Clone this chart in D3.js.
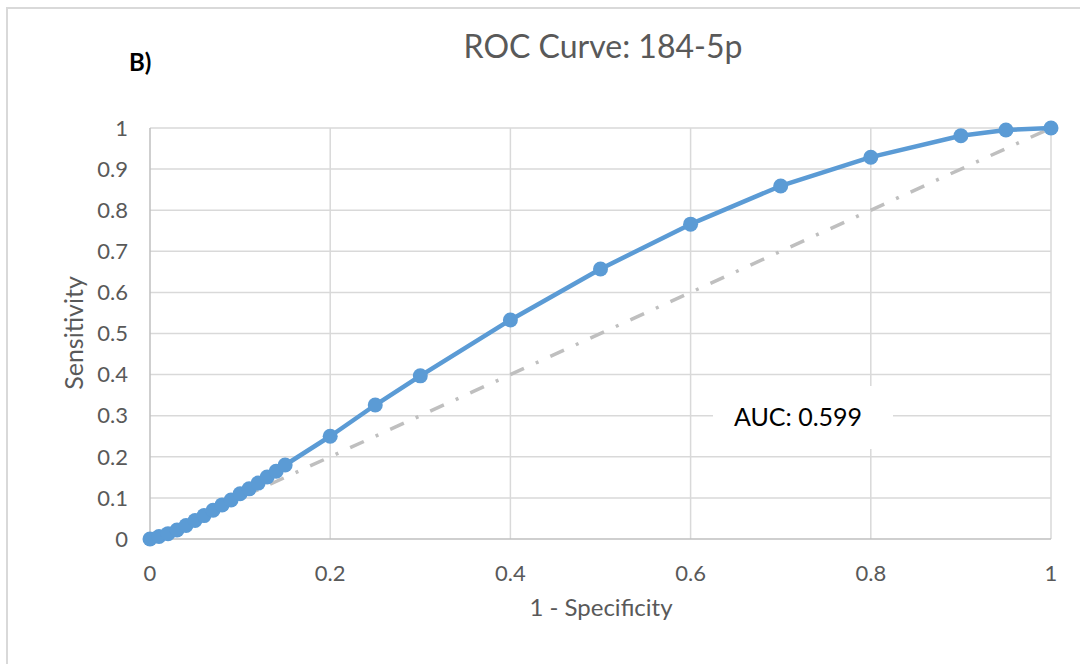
<!DOCTYPE html>
<html><head><meta charset="utf-8">
<script src="https://cdn.jsdelivr.net/npm/d3@7"></script>
<style>body{margin:0;background:#fff}svg{display:block}text{font-family:Lato,"Open Sans",sans-serif}</style>
</head><body><svg id="c" width="1080" height="664"></svg>
<script>
const fprValues = [0, 0.01, 0.02, 0.03, 0.04, 0.05, 0.06, 0.07, 0.08, 0.09, 0.10, 0.11, 0.12, 0.13, 0.14, 0.15, 0.2, 0.25, 0.3, 0.4, 0.5, 0.6, 0.7, 0.8, 0.9, 0.95, 1];
const tprValues = [0, 0.006, 0.013, 0.022, 0.033, 0.045, 0.057, 0.07, 0.083, 0.095, 0.11, 0.122, 0.136, 0.151, 0.165, 0.18, 0.25, 0.326, 0.397, 0.533, 0.657, 0.766, 0.859, 0.929, 0.981, 0.995, 1];
const refLine = [[0,0],[1,1]];
const xTicks = [0, 0.2, 0.4, 0.6, 0.8, 1];
const yTicks = [0, 0.1, 0.2, 0.3, 0.4, 0.5, 0.6, 0.7, 0.8, 0.9, 1];
const titleText = "ROC Curve: 184-5p";
const panelLabel = "B)";
const aucLabel = "AUC: 0.599";

const svg = d3.select("#c");
const x = d3.scaleLinear().domain([0,1]).range([150,1051]);
const y = d3.scaleLinear().domain([0,1]).range([539,128]);

svg.append("rect").attr("x",7).attr("y",8).attr("width",1100).attr("height",700)
  .attr("fill","#fff").attr("stroke","#D9D9D9").attr("stroke-width",2);

// gridlines
svg.append("g").selectAll("line").data(yTicks.slice(1)).join("line")
  .attr("x1",x(0)).attr("x2",x(1)).attr("y1",d=>y(d)).attr("y2",d=>y(d))
  .attr("stroke","#D9D9D9").attr("stroke-width",1.5);
svg.append("g").selectAll("line").data(xTicks.slice(1)).join("line")
  .attr("y1",y(0)).attr("y2",y(1)).attr("x1",d=>x(d)).attr("x2",d=>x(d))
  .attr("stroke","#D9D9D9").attr("stroke-width",1.5);
// axes lines
svg.append("line").attr("x1",x(0)).attr("x2",x(1)).attr("y1",y(0)).attr("y2",y(0)).attr("stroke","#BFBFBF").attr("stroke-width",1.5);
svg.append("line").attr("x1",x(0)).attr("x2",x(0)).attr("y1",y(0)).attr("y2",y(1)).attr("stroke","#BFBFBF").attr("stroke-width",1.5);

// tick labels
svg.append("g").selectAll("text").data(yTicks).join("text")
  .attr("x",128).attr("y",d=>y(d)).attr("dy","0.35em").attr("text-anchor","end")
  .attr("font-size",22).attr("fill","#595959").text(d=>d3.format("~g")(d));
svg.append("g").selectAll("text").data(xTicks).join("text")
  .attr("x",d=>x(d)).attr("y",573).attr("dy","0.35em").attr("text-anchor","middle")
  .attr("font-size",22).attr("fill","#595959").text(d=>d3.format("~g")(d));

// axis titles
svg.append("text").attr("x",601).attr("y",608).attr("dy","0.35em").attr("text-anchor","middle")
  .attr("font-size",24).attr("fill","#595959").text("1 - Specificity");
svg.append("text").attr("transform","translate(74,333) rotate(-90)").attr("dy","0.35em").attr("text-anchor","middle")
  .attr("font-size",25).attr("fill","#595959").text("Sensitivity");

// title
svg.append("text").attr("x",603).attr("y",47).attr("dy","0.35em").attr("text-anchor","middle")
  .attr("font-size",32).attr("fill","#595959").text(titleText);
svg.append("text").attr("x",129).attr("y",63).attr("dy","0.35em")
  .attr("font-size",24).attr("font-weight","bold").attr("fill","#000").text(panelLabel);

// reference diagonal
svg.append("path").datum(refLine)
  .attr("d",d3.line().x(d=>x(d[0])).y(d=>y(d[1])))
  .attr("fill","none").attr("stroke","#BFBFBF").attr("stroke-width",3.5)
  .attr("stroke-dasharray","15,13,3,13");

// ROC curve
const pts = fprValues.map((v,i)=>[v,tprValues[i]]);
svg.append("path").datum(pts)
  .attr("d",d3.line().x(d=>x(d[0])).y(d=>y(d[1])))
  .attr("fill","none").attr("stroke","#5B9BD5").attr("stroke-width",4.5).attr("stroke-linejoin","round");
svg.append("g").selectAll("circle").data(pts).join("circle")
  .attr("cx",d=>x(d[0])).attr("cy",d=>y(d[1])).attr("r",7.5).attr("fill","#5B9BD5");

// AUC label box
svg.append("rect").attr("x",713).attr("y",386).attr("width",180).attr("height",63).attr("fill","#fff");
svg.append("text").attr("x",798).attr("y",417).attr("dy","0.35em").attr("text-anchor","middle")
  .attr("font-size",25).attr("fill","#000").text(aucLabel);
</script></body></html>
